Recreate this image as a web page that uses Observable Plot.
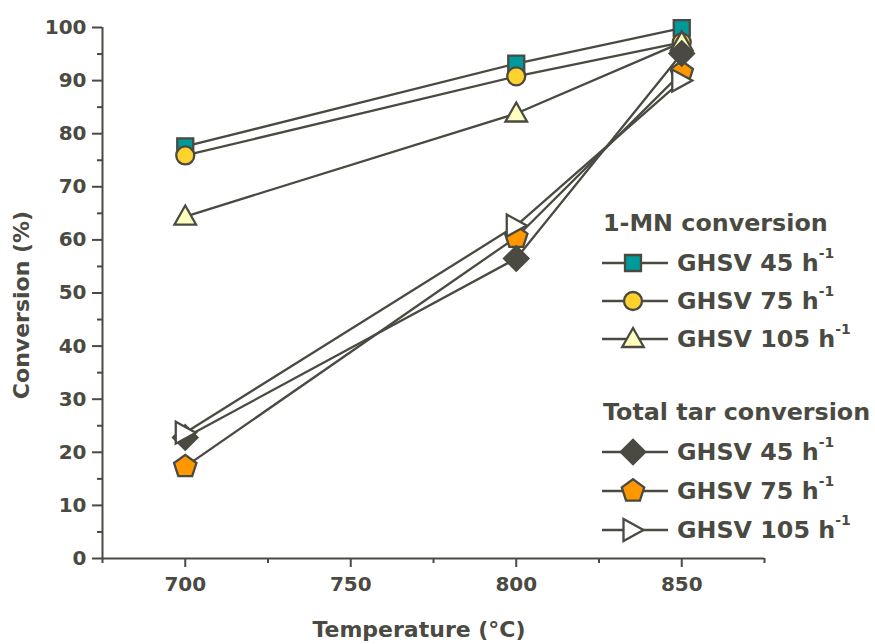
<!DOCTYPE html>
<html><head><meta charset="utf-8">
<script src="https://cdn.jsdelivr.net/npm/d3@7"></script>
<script src="https://cdn.jsdelivr.net/npm/@observablehq/plot@0.6"></script>
<style>
body{margin:0;background:#fff;}
#wrap{position:relative;width:875px;height:644px;font-family:"DejaVu Sans",sans-serif;font-weight:bold;color:#4a4a42;}
.lg{position:absolute;line-height:1;white-space:nowrap;transform:translateY(-50%);}
.lg sup{font-size:14px;position:relative;top:-4px;}
.sw{position:absolute;transform:translateY(-50%);}
.ttl{position:absolute;line-height:1;white-space:nowrap;font-size:22px;}
</style></head><body><div id="wrap"></div>
<script>
// Data
const temperatures = [700, 800, 850];
const mn45 = [77.6, 93.2, 99.9];
const mn75 = [75.9, 90.8, 97.2];
const mn105 = [64.4, 83.8, 97.2];
const tar45 = [22.8, 56.5, 95.1];
const tar75 = [17.3, 60.5, 91.5];
const tar105 = [23.7, 62.7, 90.0];
const ghsvLabels = ["GHSV 45 h", "GHSV 75 h", "GHSV 105 h"];
const groupTitles = ["1-MN conversion", "Total tar conversion"];
const xTitle = "Temperature (°C)";
const yTitle = "Conversion (%)";
const xTicks = [700, 750, 800, 850];
const xMinorTicks = [675, 725, 775, 825, 875];
const yTicks = [0, 10, 20, 30, 40, 50, 60, 70, 80, 90, 100];
const yMinorTicks = [5, 15, 25, 35, 45, 55, 65, 75, 85, 95];

const ink = "#4a4a42";

function poly(pts){
  return {draw(ctx, size){
    const R = Math.sqrt(size / Math.PI);
    pts.forEach(([a,b],i) => i ? ctx.lineTo(a*R, b*R) : ctx.moveTo(a*R, b*R));
    ctx.closePath();
  }};
}
const symSquare = poly([[-0.8,-0.8],[0.8,-0.8],[0.8,0.8],[-0.8,0.8]]);
const symCircle = {draw(ctx, size){const R = Math.sqrt(size/Math.PI)*0.9; ctx.moveTo(R,0); ctx.arc(0,0,R,0,2*Math.PI);}};
const symTriUp = poly([[0,-1.1],[1.08,0.8],[-1.08,0.8]]);
const symDiamond = poly([[0,-1.22],[1.22,0],[0,1.22],[-1.22,0]]);
const symPentagon = poly([0,1,2,3,4].map(i => {const a = -Math.PI/2 + i*2*Math.PI/5; return [1.18*Math.cos(a), 1.18*Math.sin(a)];}));
const symTriRight = poly([[1.05,0],[-0.95,-1.1],[-0.95,1.1]]);

const S45 = {label: 0, values: mn45, symbol: symSquare, fill: "#009a9a"};
const S75 = {label: 1, values: mn75, symbol: symCircle, fill: "#ffd22e"};
const S105 = {label: 2, values: mn105, symbol: symTriUp, fill: "#ffffc0"};
const T45 = {label: 0, values: tar45, symbol: symDiamond, fill: ink};
const T75 = {label: 1, values: tar75, symbol: symPentagon, fill: "#ff9800"};
const T105 = {label: 2, values: tar105, symbol: symTriRight, fill: "#ffffff"};
const drawOrder = [S45, S75, S105, T75, T45, T105];

const marks = [
  Plot.axisY({ticks: yMinorTicks, tickSize: 5, text: null, label: null, stroke: ink, strokeWidth: 2}),
  Plot.axisY({ticks: yTicks, tickSize: 10, tickPadding: 6, fontSize: 20, fontWeight: "bold", fill: ink, stroke: ink, strokeWidth: 2, label: null}),
  Plot.axisX({ticks: xMinorTicks, tickSize: 5, text: null, label: null, stroke: ink, strokeWidth: 2}),
  Plot.axisX({ticks: xTicks, tickSize: 9, tickPadding: 9, fontSize: 20, fontWeight: "bold", fill: ink, stroke: ink, strokeWidth: 2, label: null}),
  Plot.ruleX([675], {stroke: ink, strokeWidth: 2}),
  Plot.ruleY([0], {stroke: ink, strokeWidth: 2})
];
for (const s of drawOrder) {
  const data = temperatures.map((t, i) => ({t, v: s.values[i]}));
  marks.push(Plot.line(data, {x: "t", y: "v", stroke: ink, strokeWidth: 2.3}));
}
for (const s of drawOrder) {
  const data = temperatures.map((t, i) => ({t, v: s.values[i]}));
  marks.push(Plot.dot(data, {x: "t", y: "v", symbol: s.symbol, r: 10, fill: s.fill, stroke: ink, strokeWidth: 2.3}));
}

const chart = Plot.plot({
  width: 875, height: 644,
  marginLeft: 102, marginRight: 111, marginTop: 27, marginBottom: 86,
  x: {domain: [675, 875]},
  y: {domain: [0, 100]},
  style: {fontFamily: "'DejaVu Sans', sans-serif", fontWeight: "bold", color: ink, fontSize: "20px", background: "white", overflow: "visible"},
  marks
});
const wrap = document.getElementById("wrap");
wrap.appendChild(chart);

// Axis titles
const xt = document.createElement("div");
xt.className = "ttl"; xt.textContent = xTitle;
xt.style.left = "419px"; xt.style.top = "630px"; xt.style.transform = "translate(-50%,-50%)";
wrap.appendChild(xt);
const yt = document.createElement("div");
yt.className = "ttl"; yt.textContent = yTitle;
yt.style.left = "22px"; yt.style.top = "305px"; yt.style.transform = "translate(-50%,-50%) rotate(-90deg)";
wrap.appendChild(yt);

// Legend overlay
const legendLayout = [
  {titleY: 224, rows: [263, 301, 339]},
  {titleY: 413, rows: [452, 491, 530]}
];
const legendGroups = [[S45, S75, S105], [T45, T75, T105]];
legendGroups.forEach((grp, g) => {
  const t = document.createElement("div");
  t.className = "lg";
  t.style.left = "603px"; t.style.top = legendLayout[g].titleY + "px"; t.style.fontSize = "23.8px";
  t.textContent = groupTitles[g];
  wrap.appendChild(t);
  grp.forEach((s, i) => {
    const y = legendLayout[g].rows[i];
    const svg = d3.create("svg").attr("class", "sw").attr("width", 74).attr("height", 34)
      .style("left", "599px").style("top", y + "px").style("overflow", "visible");
    svg.append("line").attr("x1", 3).attr("x2", 69).attr("y1", 17).attr("y2", 17).attr("stroke", ink).attr("stroke-width", 2.3);
    svg.append("path").attr("transform", "translate(34,17)").attr("d", d3.symbol(s.symbol, Math.PI*100)())
      .attr("fill", s.fill).attr("stroke", ink).attr("stroke-width", 2.3);
    wrap.appendChild(svg.node());
    const d = document.createElement("div");
    d.className = "lg";
    d.style.left = "677px"; d.style.top = y + "px"; d.style.fontSize = "23.8px";
    d.innerHTML = ghsvLabels[s.label] + "<sup>-1</sup>";
    wrap.appendChild(d);
  });
});
</script></body></html>
